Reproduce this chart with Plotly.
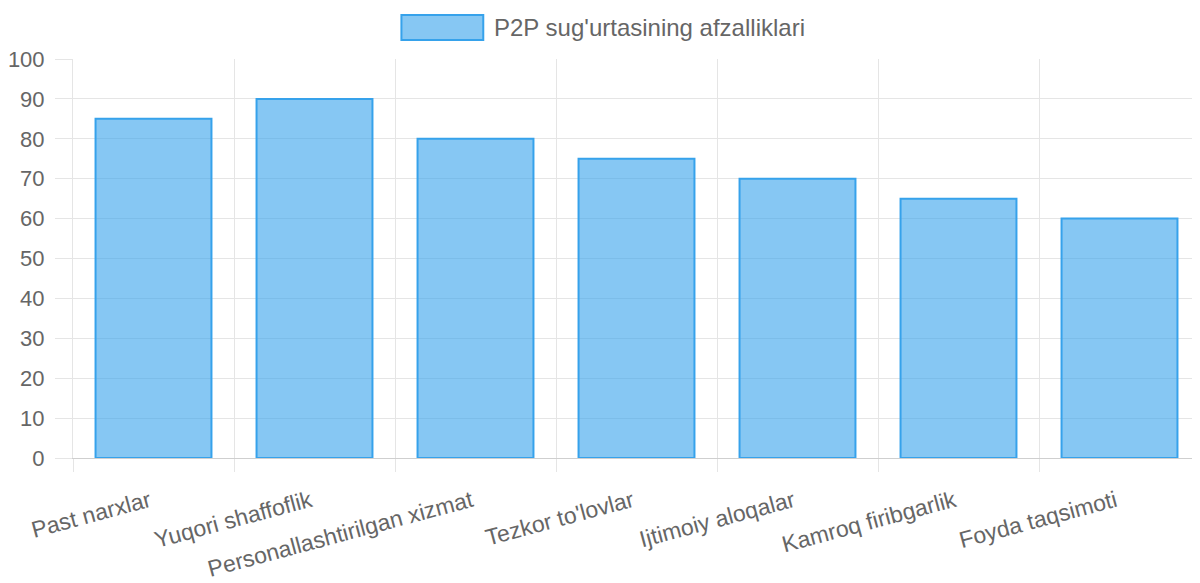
import plotly.graph_objects as go

categories = ["Past narxlar", "Yuqori shaffoflik", "Personallashtirilgan xizmat",
              "Tezkor to'lovlar", "Ijtimoiy aloqalar", "Kamroq firibgarlik", "Foyda taqsimoti"]
values = [85, 90, 80, 75, 70, 65, 60]
series_name = "P2P sug'urtasining afzalliklari"
y_ticks = [0, 10, 20, 30, 40, 50, 60, 70, 80, 90, 100]

FILL = "rgba(54,162,235,0.6)"
LINE = "rgb(54,162,235)"
TXT = "#666666"
GRID = "#e5e5e5"
FONT = "Liberation Sans, Arial, sans-serif"

# page has an 8px body margin; figure is sized so the plot lands where the reference has it
W, H = 1192, 575
L, R, T, B = 63, 0, 51, 125
PW, PH = W - L - R, H - T - B


def px(x_page):
    return (x_page - 8 - L) / PW


def py(y_page):
    return 1 + (T - (y_page - 8)) / PH


fig = go.Figure()
fig.add_trace(go.Bar(
    x=categories, y=values, name=series_name,
    marker=dict(color=FILL, line=dict(color=LINE, width=2)),
    width=0.72, showlegend=False,
))

fig.update_layout(
    width=W, height=H,
    margin=dict(l=L, r=R, t=T, b=B, pad=0),
    paper_bgcolor="white", plot_bgcolor="white",
    font=dict(family=FONT, size=22, color=TXT),
    xaxis=dict(
        tickangle=-15, tickson="boundaries", ticks="outside", ticklen=13,
        ticklabelstandoff=20, ticklabelshift=-4,
        tickcolor=GRID, tickwidth=1, showgrid=True, gridcolor=GRID, gridwidth=1,
        showline=True, linecolor="#cfcfcf", linewidth=1,
        tickfont=dict(size=23, color=TXT),
    ),
    yaxis=dict(
        range=[0, 100], tickvals=y_ticks, ticks="outside", ticklen=17,
        ticklabelstandoff=6,
        tickcolor=GRID, tickwidth=1, showgrid=True, gridcolor=GRID, gridwidth=1,
        showline=True, linecolor=GRID, linewidth=1, zeroline=False,
        tickfont=dict(size=22, color=TXT),
    ),
    shapes=[dict(type="rect", xref="paper", yref="paper",
                 x0=px(400), x1=px(482), y0=py(40), y1=py(15),
                 fillcolor=FILL, line=dict(color=LINE, width=2))],
    annotations=[dict(text=series_name, xref="paper", yref="paper",
                      x=px(491), y=py(27.5),
                      xanchor="left", yanchor="middle", showarrow=False,
                      font=dict(size=24, color=TXT))],
)

fig.write_html("out.html")
